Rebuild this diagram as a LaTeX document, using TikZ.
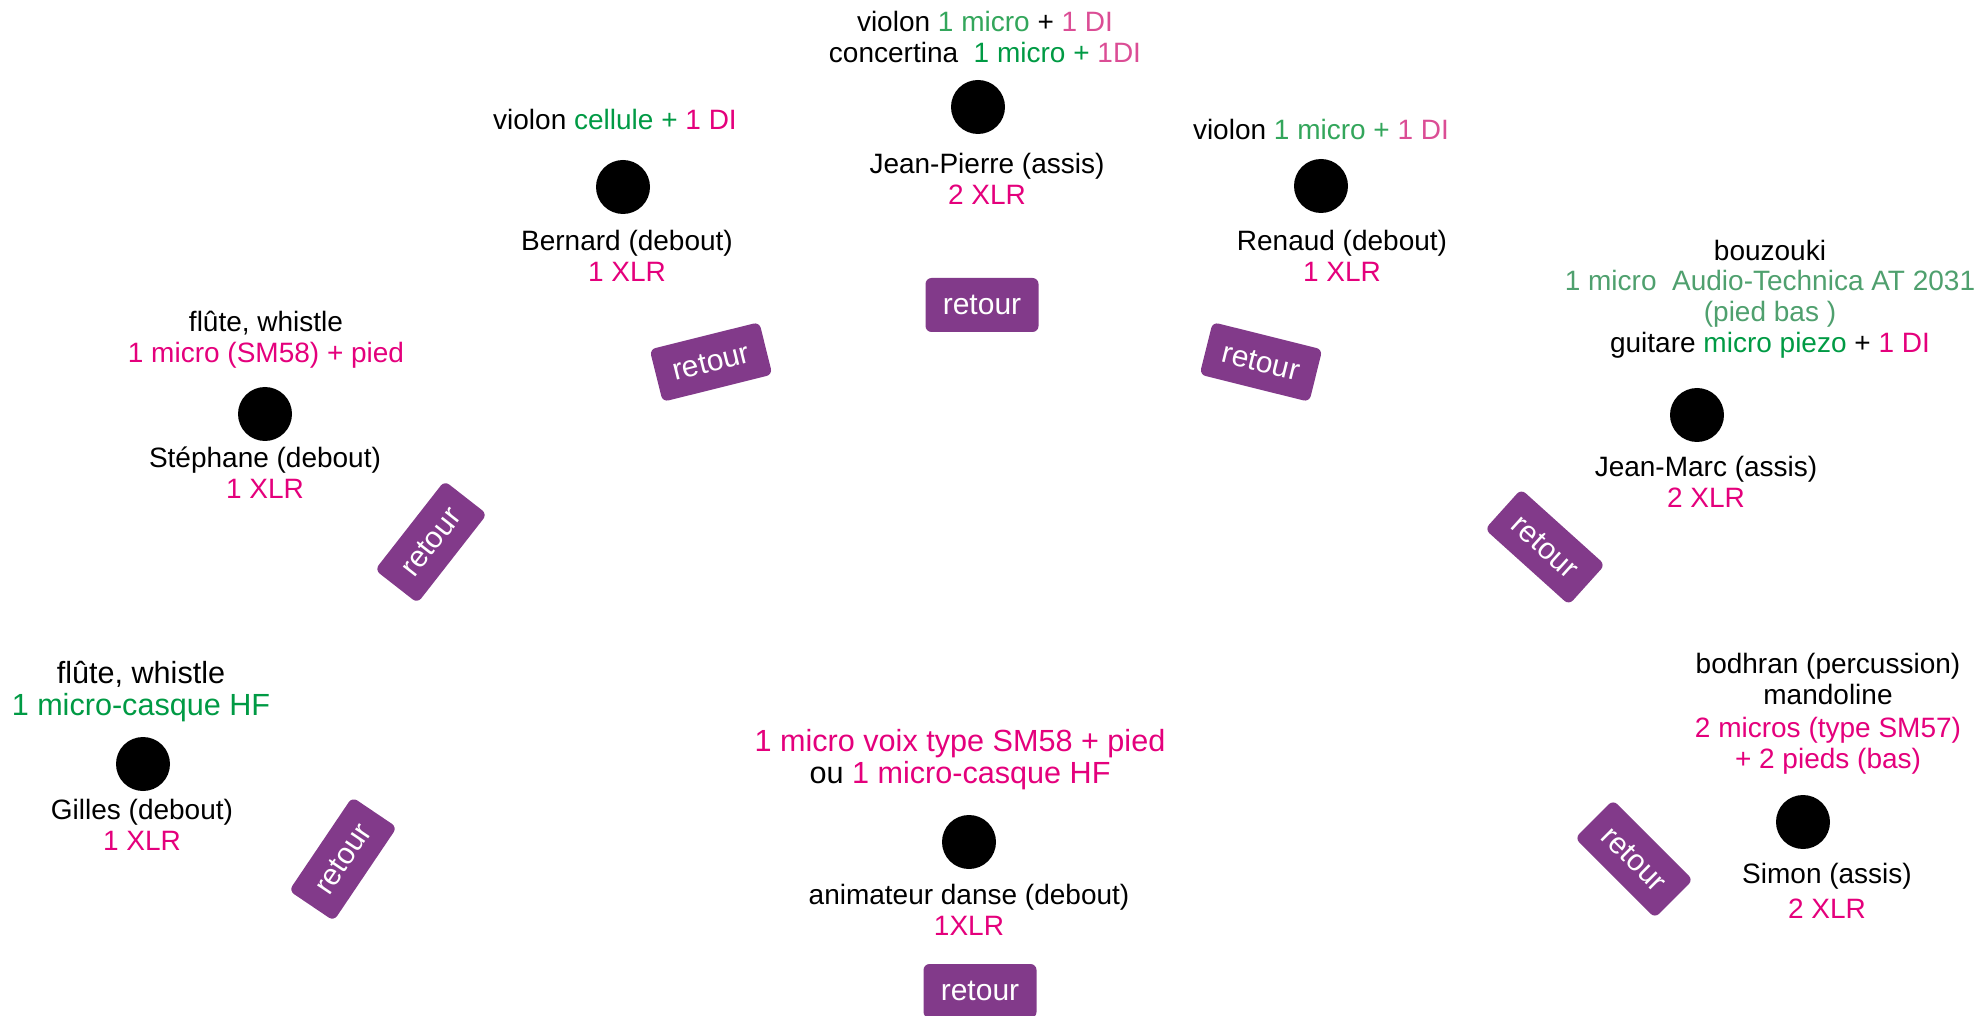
\documentclass[tikz,border=0pt]{standalone}
\usepackage{fontspec}
\setmainfont{Liberation Sans}
\definecolor{retourviolet}{HTML}{823A8A}
\definecolor{rose}{HTML}{E4007C}
\definecolor{roseclair}{HTML}{DB4D95}
\definecolor{vert}{HTML}{009A44}
\definecolor{vertclair}{HTML}{33A65B}
\definecolor{vertat}{HTML}{4FA06E}
\newcommand{\txtrose}[1]{\textcolor{rose}{#1}}
\newcommand{\txtroseclair}[1]{\textcolor{roseclair}{#1}}
\newcommand{\txtvert}[1]{\textcolor{vert}{#1}}
\newcommand{\txtvertclair}[1]{\textcolor{vertclair}{#1}}
\newcommand{\txtvertat}[1]{\textcolor{vertat}{#1}}
\tikzset{
	musicien/.style={circle, fill=black, minimum size=27pt, inner sep=0pt},
	infos/.style={align=center, anchor=base, inner sep=0pt, font=\fontsize{14}{15.5}\selectfont},
	grandes/.style={font=\fontsize{15.3}{16}\selectfont},
	retour/.style={rectangle, rounded corners=3pt, fill=retourviolet, text=white, minimum width=56.5pt, minimum height=27pt, inner sep=0pt, font=\fontsize{15}{15}\selectfont}
}
\begin{document}
\begin{tikzpicture}[x=0.5pt,y=-0.5pt]
	\useasboundingbox (0,0) rectangle (1978,1016);
	% Jean-Pierre
	\node[infos] (jp-instr) at (985,63) {violon \txtvertclair{1 micro} + \txtroseclair{1 DI}\\concertina\ \ \txtvert{1 micro +} \txtroseclair{1DI}};
	\node[musicien] (jp) at (978,107) {};
	\node[infos] (jp-nom) at (987,205) {Jean-Pierre (assis)\\\txtrose{2 XLR}};
	% Bernard
	\node[infos] (bernard-instr) at (615,130) {violon \txtvert{cellule +} \txtrose{1 DI}};
	\node[musicien] (bernard) at (623,187) {};
	\node[infos] (bernard-nom) at (627,282) {Bernard (debout)\\\txtrose{1 XLR}};
	% Renaud
	\node[infos] (renaud-instr) at (1321,140) {violon \txtvertclair{1 micro +} \txtroseclair{1 DI}};
	\node[musicien] (renaud) at (1321,186) {};
	\node[infos] (renaud-nom) at (1342,282) {Renaud (debout)\\\txtrose{1 XLR}};
	% Jean-Marc
	\node[infos] (jm-instr) at (1770,353) {bouzouki\\\txtvertat{1 micro\ \ Audio-Technica AT 2031}\\\txtvertat{(pied bas )}\\guitare \txtvert{micro piezo} + \txtrose{1 DI}};
	\node[musicien] (jm) at (1697,415) {};
	\node[infos] (jm-nom) at (1706,508) {Jean-Marc (assis)\\\txtrose{2 XLR}};
	% Simon
	\node[infos] (simon-instr) at (1828,768) {bodhran (percussion)\\mandoline\\[1pt]\txtrose{2 micros (type SM57)}\\\txtrose{+ 2 pieds (bas)}};
	\node[musicien] (simon) at (1803,822) {};
	\node[infos] (simon-nom) at (1827,918) {Simon (assis)\\[2pt]\txtrose{2 XLR}};
	% Stephane
	\node[infos] (stephane-instr) at (266,363) {flûte, whistle\\\txtrose{1 micro (SM58) + pied}};
	\node[musicien] (stephane) at (265,414) {};
	\node[infos] (stephane-nom) at (265,498) {Stéphane (debout)\\\txtrose{1 XLR}};
	% Gilles
	\node[infos,grandes] (gilles-instr) at (141,715) {flûte, whistle\\\txtvert{1 micro-casque HF}};
	\node[musicien] (gilles) at (143,764) {};
	\node[infos] (gilles-nom) at (142,850) {Gilles (debout)\\\txtrose{1 XLR}};
	% animateur
	\node[infos,grandes] (anim-instr) at (960,783) {\txtrose{1 micro voix type SM58 + pied}\\ou \txtrose{1 micro-casque HF}};
	\node[musicien] (anim) at (969,842) {};
	\node[infos] (anim-nom) at (969,935) {animateur danse (debout)\\\txtrose{1XLR}};
	% retours
	\foreach \pos/\angle/\nom in {(982,305)/0/ret-jp, (711,362)/14/ret-bernard, (1261,362)/-14/ret-renaud, (1545,547)/-42/ret-jm, (1634,859)/-45/ret-simon, (431,542)/52/ret-stephane, (343,859)/56/ret-gilles, (980,991)/0/ret-anim}
	\node[retour, rotate=\angle] (\nom) at \pos {retour};
\end{tikzpicture}
\end{document}
